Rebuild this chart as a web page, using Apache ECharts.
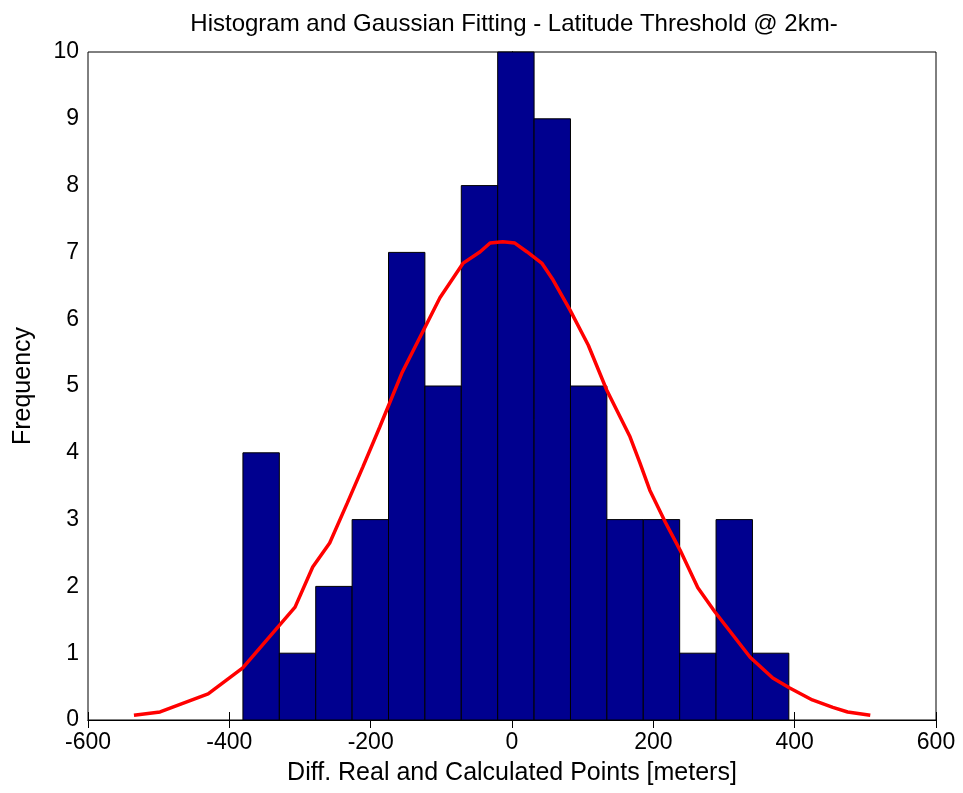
<!DOCTYPE html>
<html>
<head>
<meta charset="utf-8">
<script src="https://cdn.jsdelivr.net/npm/echarts@6/dist/echarts.min.js"></script>
<style>
  html, body { margin: 0; padding: 0; background: #fff; }
  #chart { width: 963px; height: 793px; }
</style>
</head>
<body>
<div id="chart"></div>
<script>
// histogram bins (centers, meters) and counts
const binCenters = [-355, -303.5, -252, -200.5, -149, -97.5, -46, 5.5, 57, 108.5, 160, 211.5, 263, 314.5, 366];
const binWidth = 51.5;
const counts = [4, 1, 2, 3, 7, 5, 8, 10, 9, 5, 3, 3, 1, 3, 1];

// gaussian fit curve
const fitX = [-535, -498, -430, -381, -307, -282, -258, -233, -211, -187, -156, -102, -69, -45, -31, -13, 4, 21, 42, 58, 82, 108, 134, 167, 181, 195, 217, 238, 263, 287, 337, 369, 393, 425, 454, 475, 507];
const fitY = [0.07, 0.12, 0.39, 0.78, 1.69, 2.29, 2.65, 3.25, 3.79, 4.39, 5.19, 6.32, 6.84, 7.01, 7.14, 7.16, 7.14, 7.01, 6.84, 6.59, 6.14, 5.61, 4.94, 4.24, 3.85, 3.44, 2.96, 2.54, 1.98, 1.62, 0.94, 0.63, 0.48, 0.30, 0.19, 0.12, 0.07];

const xTicks = [-600, -400, -200, 0, 200, 400, 600];
const yTicks = [0, 1, 2, 3, 4, 5, 6, 7, 8, 9, 10];

const chart = echarts.init(document.getElementById("chart"));
const font = "Liberation Sans, Arial, sans-serif";

const hidden = { show: false };
const tickIn = { show: true, inside: true, length: 8, lineStyle: { color: "#000", width: 1 } };

const option = {
  backgroundColor: "#fff",
  animation: false,
  title: {
    text: "Histogram and Gaussian Fitting - Latitude Threshold @ 2km-",
    left: 509,
    textAlign: "center",
    top: 7,
    textStyle: { fontFamily: font, fontSize: 24, fontWeight: "normal", color: "#000" },
  },
  grid: { left: 88, right: 27, top: 52, bottom: 73, show: true, borderColor: "#000", borderWidth: 1 },
  xAxis: [
    {
      type: "value",
      min: xTicks[0],
      max: xTicks[xTicks.length - 1],
      interval: 200,
      position: "bottom",
      name: "Diff. Real and Calculated Points [meters]",
      nameLocation: "middle",
      nameGap: 41,
      nameTextStyle: { fontFamily: font, fontSize: 25, color: "#000" },
      axisLine: { show: true, lineStyle: { color: "#000" } },
      axisTick: tickIn,
      axisLabel: { fontFamily: font, fontSize: 23, color: "#000", margin: 11 },
      splitLine: hidden,
    },
    {
      type: "value",
      min: xTicks[0],
      max: xTicks[xTicks.length - 1],
      interval: 200,
      position: "top",
      axisLine: { show: true, lineStyle: { color: "#000" } },
      axisTick: tickIn,
      axisLabel: hidden,
      splitLine: hidden,
    },
  ],
  yAxis: [
    {
      type: "value",
      min: yTicks[0],
      max: yTicks[yTicks.length - 1],
      interval: 1,
      position: "left",
      name: "Frequency",
      nameLocation: "middle",
      nameGap: 52,
      nameTextStyle: { fontFamily: font, fontSize: 25, color: "#000" },
      axisLine: { show: true, lineStyle: { color: "#000" } },
      axisTick: tickIn,
      axisLabel: { fontFamily: font, fontSize: 23, color: "#000", margin: 9 },
      splitLine: hidden,
    },
    {
      type: "value",
      min: yTicks[0],
      max: yTicks[yTicks.length - 1],
      interval: 1,
      position: "right",
      axisLine: { show: true, lineStyle: { color: "#000" } },
      axisTick: tickIn,
      axisLabel: hidden,
      splitLine: hidden,
    },
  ],
  series: [
    {
      type: "custom",
      xAxisIndex: 0,
      yAxisIndex: 0,
      data: binCenters.map((c, i) => [c, counts[i]]),
      renderItem: (params, api) => {
        const c = api.value(0);
        const v = api.value(1);
        const p0 = api.coord([c - binWidth / 2, v]);
        const p1 = api.coord([c + binWidth / 2, 0]);
        return {
          type: "rect",
          shape: { x: p0[0], y: p0[1], width: p1[0] - p0[0], height: p1[1] - p0[1] },
          style: { fill: "#00008f", stroke: "#000", lineWidth: 1 },
        };
      },
      z: 2,
    },
    {
      type: "line",
      xAxisIndex: 0,
      yAxisIndex: 0,
      data: fitX.map((x, i) => [x, fitY[i]]),
      showSymbol: false,
      symbol: "none",
      smooth: false,
      lineStyle: { color: "#ff0000", width: 3.5 },
      z: 3,
    },
  ],
};

chart.setOption(option);
</script>
</body>
</html>
